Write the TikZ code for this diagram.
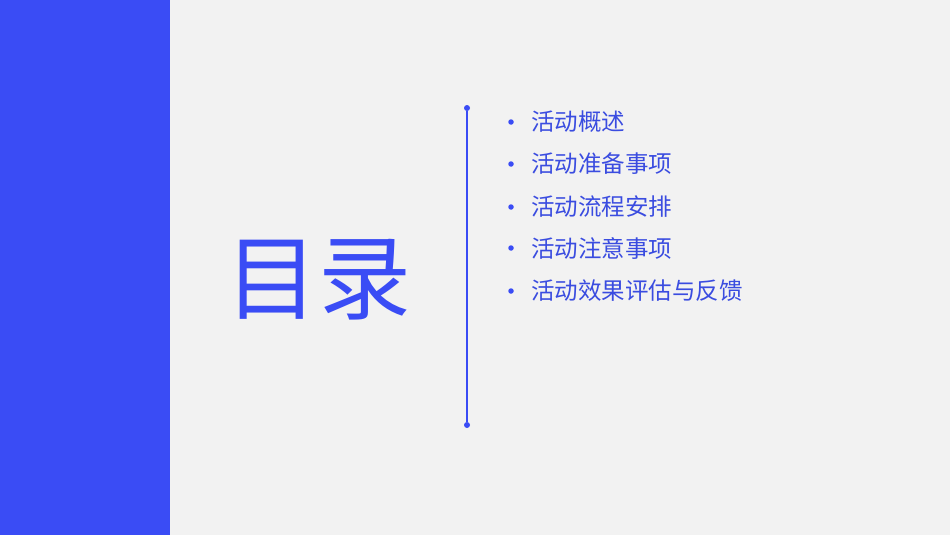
\documentclass[tikz,border=0pt]{standalone}
\usepackage{fontspec}
\newfontfamily\cjk{Noto Sans CJK SC}
\definecolor{mainblue}{HTML}{3A4CF5}
\definecolor{txtblue}{HTML}{3A4CE0}
\definecolor{bg}{HTML}{F2F2F2}
\begin{document}
\begin{tikzpicture}[x=1pt,y=-1pt,
  item/.style={anchor=west,inner sep=0pt,font=\cjk\fontsize{23.5}{23.5}\selectfont,text=txtblue},
  dot/.style={circle,fill=mainblue,inner sep=0pt,minimum size=6pt}]
\fill[bg] (0,0) rectangle (950,535);
\useasboundingbox (0,0) rectangle (950,535);
\fill[mainblue] (0,0) rectangle (170,535);
\node[inner sep=0pt,font=\cjk\fontsize{93}{93}\selectfont,text=mainblue] (title) at (318,280) {目录};
\node[dot] (top) at (467,108) {};
\node[dot] (bot) at (467,425) {};
\draw[mainblue,line width=1.2pt] (top) -- (bot);
\foreach \y/\t [count=\i] in {122/活动概述,164/活动准备事项,207/活动流程安排,248/活动注意事项,291/活动效果评估与反馈}{
  \node[dot,minimum size=5.5pt] (b\i) at (511,\y) {};
  \node[item] (t\i) at (531,\y) {\t};
}
\end{tikzpicture}
\end{document}
